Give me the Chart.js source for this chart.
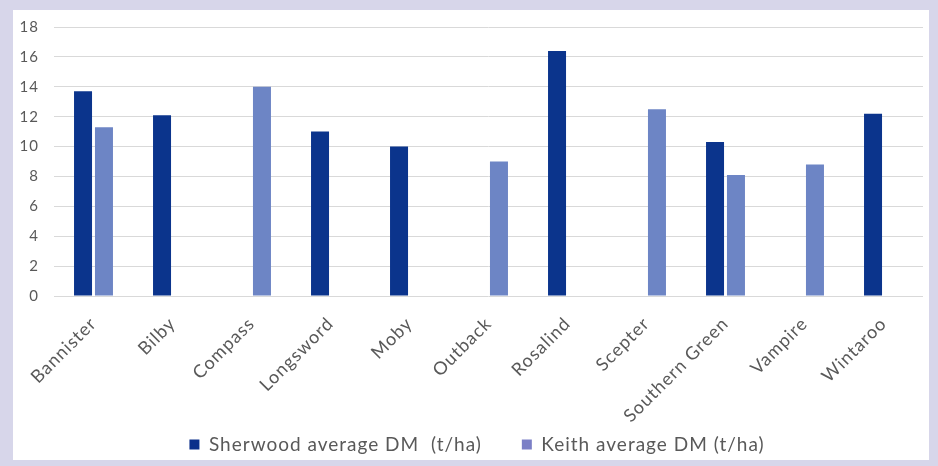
<!DOCTYPE html>
<html>
<head>
<meta charset="utf-8">
<script src="https://cdn.jsdelivr.net/npm/chart.js@4.4.1/dist/chart.umd.min.js"></script>
<style>
  html, body { margin: 0; padding: 0; }
  body { width: 938px; height: 466px; background: #d7d6ea; position: relative; overflow: hidden; }
  #panel { position: absolute; left: 13px; top: 10px; width: 916px; height: 450px; background: #ffffff; }
  #wrap { position: absolute; left: 0; top: 0; width: 916px; height: 450px; }
</style>
</head>
<body>
<div id="panel"><div id="wrap"><canvas id="c" width="916" height="450"></canvas></div></div>
<script>
const categories = ["Bannister", "Bilby", "Compass", "Longsword", "Moby", "Outback", "Rosalind", "Scepter", "Southern Green", "Vampire", "Wintaroo"];
const sherwoodDM = [13.7, 12.1, null, 11.0, 10.0, null, 16.4, null, 10.3, null, 12.2];
const keithDM    = [11.3, null, 14.0, null, null, 9.0, null, 12.5, 8.1, 8.8, null];
const seriesNames = ["Sherwood average DM  (t/ha)", "Keith average DM (t/ha)"];
const yTicks = [0, 2, 4, 6, 8, 10, 12, 14, 16, 18];

const FONT = "Lato, 'Open Sans', sans-serif";
const LEGEND_H = 65;
const LEGEND_SHIFT = 9;

const layoutPlugin = {
  id: 'layoutTweaks',
  beforeLayout(chart) {
    chart.ctx.letterSpacing = '1px';
    const lg = chart.legend;
    if (lg && !lg._patched) {
      const f = lg.fit.bind(lg);
      lg.fit = function () { f(); this.height = LEGEND_H; };
      lg._patched = true;
    }
  },
  afterLayout(chart) {
    const lg = chart.legend;
    if (lg) { lg.left += LEGEND_SHIFT; lg.right += LEGEND_SHIFT; }
  },
  beforeDraw(chart) { chart.ctx.letterSpacing = '1px'; }
};

new Chart(document.getElementById('c'), {
  type: 'bar',
  plugins: [layoutPlugin],
  data: {
    labels: categories,
    datasets: [
      { label: seriesNames[0], data: sherwoodDM, backgroundColor: '#0b348c', borderWidth: 0,
        categoryPercentage: 0.53, barPercentage: 0.86, skipNull: false },
      { label: seriesNames[1], data: keithDM, backgroundColor: '#6d85c5', borderWidth: 0,
        categoryPercentage: 0.53, barPercentage: 0.86, skipNull: false }
    ]
  },
  options: {
    responsive: false,
    animation: false,
    layout: { padding: { top: 17, right: 6, left: 0, bottom: 0 } },
    plugins: {
      tooltip: { enabled: false },
      legend: {
        position: 'bottom',
        labels: {
          font: { family: FONT, size: 19 },
          color: '#595959',
          boxWidth: 10, boxHeight: 10,
          padding: 40,
          generateLabels: (chart) => chart.data.datasets.map((ds, i) => ({
            text: ds.label,
            fillStyle: i === 0 ? '#0b2f8a' : '#7b7fc6',
            strokeStyle: 'transparent', lineWidth: 0,
            fontColor: '#595959',
            datasetIndex: i, hidden: false
          }))
        }
      }
    },
    scales: {
      x: {
        afterFit: (s) => {
          s.height = 99; s.paddingLeft = 0; s.paddingRight = 0;
          s._computeLabelArea = function () { return undefined; };
        },
        grid: { display: false, drawTicks: false },
        border: { display: false },
        ticks: {
          font: { family: FONT, size: 18 },
          color: '#595959',
          maxRotation: 45, minRotation: 45,
          autoSkip: false, padding: 17
        }
      },
      y: {
        min: 0, max: 18,
        afterFit: (s) => { s.width = 41; s.paddingTop = 0; s.paddingBottom = 0; },
        afterBuildTicks: (s) => { s.ticks = yTicks.map(v => ({ value: v })); },
        grid: { color: '#d9d9d9', lineWidth: 1, drawTicks: false },
        border: { display: false },
        ticks: {
          font: { family: FONT, size: 15 },
          color: '#595959',
          padding: 15
        }
      }
    }
  }
});
</script>
</body>
</html>
